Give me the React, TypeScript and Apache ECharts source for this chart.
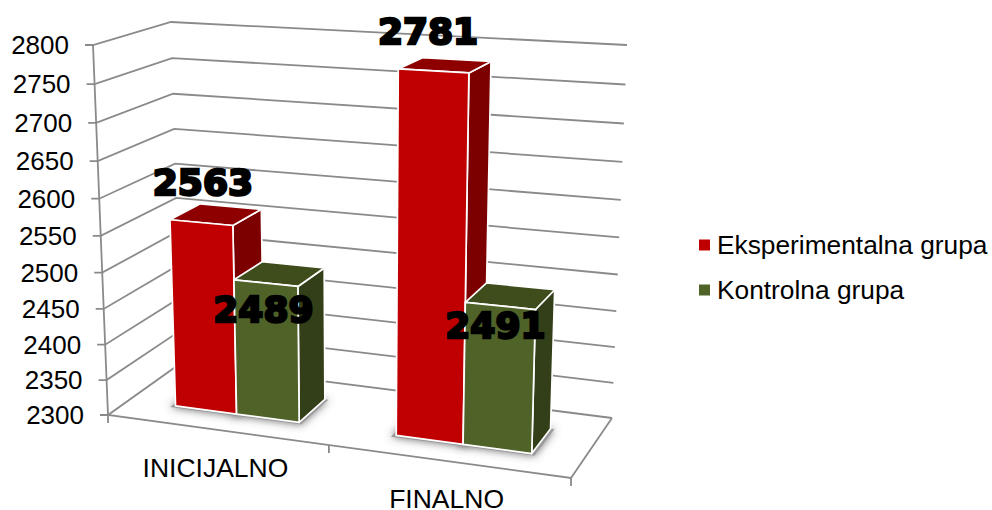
import React, { useEffect, useRef } from "react";
import * as echarts from "echarts";

const CATEGORIES = ["INICIJALNO", "FINALNO"];
const EKSPERIMENTALNA = [2563, 2781];
const KONTROLNA = [2489, 2491];
const Y_TICKS = [2300, 2350, 2400, 2450, 2500, 2550, 2600, 2650, 2700, 2750, 2800];
const Y_MIN = 2300;
const Y_MAX = 2800;
const SERIES_NAMES = ["Eksperimentalna grupa", "Kontrolna grupa"];

const FONT = '"Liberation Sans", Arial, sans-serif';
const LABEL_FONT = 'bold 36px "DejaVu Sans", sans-serif';
const GRID = { left: 100, top: 60, width: 500, height: 380 };
// Image positions of the corners of the 3D box (front/back, left/right, bottom/top)
const BOX = {
  fl: [108, 415], fr: [571, 478], bl: [181, 363], br: [612, 418],
  flT: [93, 45], frT: [583.5, 72], blT: [171, 22], brT: [627, 45],
};
const PERSP_U = 0.096;
const PERSP_V = 0.066;
const DEPTH_FRONT = 0.29;
const DEPTH_BACK = 0.71;
const BAR_WIDTH_BANDS = 1 / 3.5;
const BAR_SHIFT_X = 1.6;
const GRID_COLOR = "#8a8a8a";
const FACE = [
  { front: "#C00000", side: "#7C0000", top: "#8E0000" },
  { front: "#4F6228", side: "#333F19", top: "#3F4C1C" },
];
const LABEL_SHIFT = [
  [[1.5, -40], [-5.5, -39]],
  [[-2.5, 26], [-5, 20]],
];

type P = number[];
const mix = (a: P, b: P, k: number): P => [a[0] + (b[0] - a[0]) * k, a[1] + (b[1] - a[1]) * k];

function project(px: number, py: number, w: number): P {
  const u = (px - GRID.left) / GRID.width;
  const t = 1 - (py - GRID.top) / GRID.height;
  const su = u / (1 + PERSP_U * (1 - u));
  const st = t / (1 + PERSP_V * (1 - t));
  const bottom = mix(mix(BOX.fl, BOX.fr, su), mix(BOX.bl, BOX.br, su), w);
  const top = mix(mix(BOX.flT, BOX.frT, su), mix(BOX.blT, BOX.brT, su), w);
  return mix(bottom, top, st);
}
const projectBar = (px: number, py: number, w: number): P => {
  const p = project(px, py, w);
  return [p[0] + BAR_SHIFT_X, p[1]];
};

const poly = (points: P[], fill: string) => ({
  type: "polygon",
  shape: { points },
  style: { fill, stroke: "#FFFFFF", lineWidth: 1.7, lineJoin: "round" },
});
const gridLine = (points: P[]) => ({
  type: "polyline",
  shape: { points },
  style: { stroke: GRID_COLOR, lineWidth: 1.8, fill: "none" },
});

function renderWall(_: any, api: any) {
  const v = api.value(1);
  const [, y] = api.coord([0, v]);
  const xL = GRID.left;
  const xR = GRID.left + GRID.width;
  const front = project(xL, y, 0);
  const back = project(xL, y, 1);
  const right = project(xR, y, 1);
  return {
    type: "group",
    children: [
      gridLine([[front[0] - 8, front[1]], front, back, right]),
      {
        type: "text",
        style: {
          x: front[0] - 24,
          y: front[1],
          text: String(v),
          align: "right",
          verticalAlign: "middle",
          font: `26px ${FONT}`,
          fill: "#000",
        },
      },
    ],
  };
}

function renderFloor(_: any, api: any) {
  const i = api.value(0);
  const [cx, by] = api.coord([i, Y_MIN]);
  const [, ty] = api.coord([i, Y_MAX]);
  const band = api.size([1, 0])[0];
  const children: any[] = [];
  const tick = (x: number) => {
    const p = project(x, by, 0);
    children.push(gridLine([p, [p[0], p[1] + 8]]));
  };
  tick(cx - band / 2);
  if (i === CATEGORIES.length - 1) {
    tick(cx + band / 2);
    const xL = GRID.left;
    const xR = GRID.left + GRID.width;
    children.push(
      gridLine([project(xL, ty, 0), project(xL, by, 0), project(xR, by, 0), project(xR, by, 1)])
    );
  }
  const c = project(cx, by, 0);
  children.push({
    type: "text",
    style: {
      x: c[0] - 0.5,
      y: c[1] + 38,
      text: CATEGORIES[i],
      align: "center",
      verticalAlign: "middle",
      lineHeight: 20,
      font: `26.5px ${FONT}`,
      fill: "#000",
    },
  });
  return { type: "group", children };
}

function barX(api: any, cat: number, s: number) {
  const band = api.size([1, 0])[0];
  const cx = api.coord([cat, Y_MIN])[0];
  const w = band * BAR_WIDTH_BANDS;
  return [cx + (s - 1) * w, cx + s * w];
}

function renderShadow(_: any, api: any) {
  const cat = api.value(0);
  const s = api.value(1);
  const by = api.coord([cat, Y_MIN])[1];
  const [x0, x1] = barX(api, cat, s);
  const a = x0 - 4;
  const b = x1 + 4;
  const f = DEPTH_FRONT - 0.03;
  const k = DEPTH_BACK;
  return {
    type: "polygon",
    shape: { points: [projectBar(a, by, f), projectBar(b, by, f), projectBar(b, by, k), projectBar(a, by, k)] },
    style: { fill: "#999999", shadowBlur: 8, shadowColor: "rgba(70,70,70,0.8)" },
  };
}

const renderBar = (s: number) => (_: any, api: any) => {
  const cat = api.value(0);
  const v = api.value(1);
  const [x0, x1] = barX(api, cat, s);
  const by = api.coord([cat, Y_MIN])[1];
  const ty = api.coord([cat, v])[1];
  const fbl = projectBar(x0, by, DEPTH_FRONT);
  const fbr = projectBar(x1, by, DEPTH_FRONT);
  const ftl = projectBar(x0, ty, DEPTH_FRONT);
  const ftr = projectBar(x1, ty, DEPTH_FRONT);
  const bbr = projectBar(x1, by, DEPTH_BACK);
  const btr = projectBar(x1, ty, DEPTH_BACK);
  const btl = projectBar(x0, ty, DEPTH_BACK);
  const c = FACE[s];
  const [dx, dy] = LABEL_SHIFT[s][cat];
  return {
    type: "group",
    children: [
      poly([fbr, bbr, btr, ftr], c.side),
      poly([ftl, ftr, btr, btl], c.top),
      poly([fbl, fbr, ftr, ftl], c.front),
      {
        type: "text",
        style: {
          x: (ftl[0] + ftr[0]) / 2 + dx,
          y: (ftl[1] + ftr[1]) / 2 + dy,
          text: String(v),
          align: "center",
          verticalAlign: "middle",
          font: LABEL_FONT,
          fill: "#000",
          stroke: "#000",
          lineWidth: 2.5,
        },
      },
    ],
  };
};

export default function App() {
  const ref = useRef<HTMLDivElement>(null);
  useEffect(() => {
    const chart = echarts.init(ref.current!, null, { renderer: "svg" });
    const custom = { type: "custom", encode: { x: 0, y: 1 }, silent: true, clip: false };
    chart.setOption({
      animation: false,
      backgroundColor: "#FFFFFF",
      grid: GRID,
      xAxis: { type: "category", data: CATEGORIES, show: false },
      yAxis: { type: "value", min: Y_MIN, max: Y_MAX, interval: 50, show: false },
      legend: {
        data: SERIES_NAMES,
        orient: "vertical",
        left: 694,
        top: 227,
        itemWidth: 11,
        itemHeight: 11,
        itemGap: 19,
        icon: "rect",
        selectedMode: false,
        textStyle: { fontFamily: FONT, fontSize: 26.3, color: "#000", padding: [0, 0, 0, 2] },
      },
      series: [
        { ...custom, name: "zidovi", renderItem: renderWall, data: Y_TICKS.map((v) => [0, v]) },
        { ...custom, name: "pod", renderItem: renderFloor, data: CATEGORIES.map((_, i) => [i, Y_MIN]) },
        {
          ...custom,
          name: "senka",
          renderItem: renderShadow,
          encode: { x: 0 },
          data: CATEGORIES.flatMap((_, i) => [[i, 0], [i, 1]]),
        },
        {
          ...custom,
          name: SERIES_NAMES[0],
          renderItem: renderBar(0),
          itemStyle: { color: FACE[0].front },
          data: EKSPERIMENTALNA.map((v, i) => [i, v]),
        },
        {
          ...custom,
          name: SERIES_NAMES[1],
          renderItem: renderBar(1),
          itemStyle: { color: FACE[1].front },
          data: KONTROLNA.map((v, i) => [i, v]),
        },
      ],
    });
    return () => chart.dispose();
  }, []);
  return <div ref={ref} style={{ position: "absolute", left: 0, top: 0, width: 992, height: 510 }} />;
}
